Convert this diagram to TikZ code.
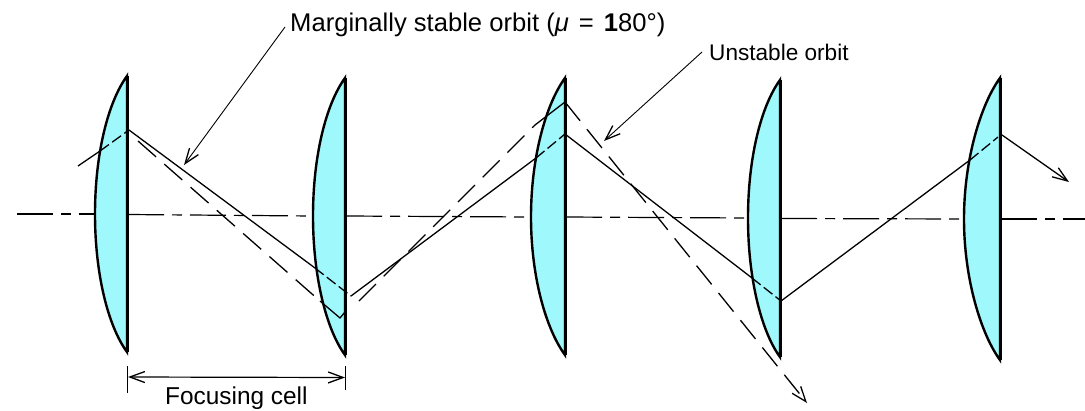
\documentclass[tikz,border=0pt]{standalone}
\usepackage{fontspec}
\setmainfont{Liberation Sans}
\usetikzlibrary{arrows.meta}
\definecolor{lensfill}{HTML}{9FF8FC}
\tikzset{
  lensface/.style={fill=lensfill,draw=black,line width=2.4pt,line join=miter},
  flatside/.style={draw=black,line width=3pt},
  axisline/.style={draw=black,line width=1.2pt,dash pattern=on 36pt off 8pt on 10pt off 8pt},
  orbit/.style={draw=black,line width=1.3pt},
  inlens/.style={draw=black,line width=1.3pt,dash pattern=on 11pt off 4pt},
  unstable/.style={draw=black,line width=1.3pt,dash pattern=on 24pt off 11pt},
  leader/.style={draw=black,line width=.9pt},
  vee/.style={-{Straight Barb[length=15pt,width=11pt,line width=1.3pt]}},
  label/.style={inner sep=0pt,anchor=base west,text=black}
}
\newcommand{\lensat}[5]{% flat x, top y, bottom y, bulge x, mid y
  \path[lensface] (#1,#2) .. controls ({#1-19},{#2+26}) and (#4,{#5-60}) .. (#4,#5)
     .. controls (#4,{#5+60}) and ({#1-19},{#3-26}) .. (#1,#3) -- cycle;
  \draw[flatside] (#1,#2) -- (#1,#3);
}
\begin{document}
\begin{tikzpicture}[x=1pt,y=-1pt]
\useasboundingbox (0,0) rectangle (1085,410);
% axis
\coordinate (ax0) at (17,214);
\coordinate (ax1) at (95,214);
\coordinate (ax2) at (128,214.5);
\coordinate (ax3) at (313,216);
\coordinate (ax4) at (346,216);
\coordinate (ax5) at (531,217);
\coordinate (ax6) at (566,217);
\coordinate (ax7) at (748,218);
\coordinate (ax8) at (781,218.5);
\coordinate (ax9) at (964,219);
\coordinate (ax10) at (1001,219);
\coordinate (ax11) at (1085,219);
\draw[axisline] (ax0) -- (ax1);
\draw[axisline] (ax2) -- (ax3);
\draw[axisline] (ax4) -- (ax5);
\draw[axisline] (ax6) -- (ax7);
\draw[axisline] (ax8) -- (ax9);
\draw[axisline] (ax10) -- (ax11);
% lenses
\lensat{127}{76}{352}{95}{214}
\lensat{345}{78}{355}{313}{216}
\lensat{565}{78}{355}{531}{217}
\lensat{780}{80}{357}{748}{218}
\lensat{1000}{78}{360}{964}{219}
% stable orbit
\coordinate (s0) at (78,166);
\coordinate (s1) at (100,151);
\coordinate (s2) at (129,130);
\coordinate (s3) at (315,268);
\coordinate (s4) at (351,296);
\coordinate (s5) at (536,158);
\coordinate (s6) at (565,134);
\coordinate (s7) at (752,278);
\coordinate (s8) at (781,301);
\coordinate (s9) at (970,160);
\coordinate (s10) at (998,137);
\coordinate (s11) at (1002,135);
\coordinate (s12) at (1069,182);
\draw[orbit] (s0) -- (s1);
\draw[inlens] (s1) -- (s2);
\draw[orbit] (s2) -- (s3);
\draw[inlens] (s3) -- (s4);
\draw[orbit] (s4) -- (s5);
\draw[inlens] (s5) -- (s6);
\draw[orbit] (s6) -- (s7);
\draw[inlens] (s7) -- (s8);
\draw[orbit] (s8) -- (s9);
\draw[inlens] (s9) -- (s10);
\draw[orbit,vee] (s11) -- (s12);
% unstable orbit
\coordinate (u0) at (138,141);
\coordinate (u1) at (320,301);
\coordinate (u2) at (340,318);
\coordinate (u3) at (345,312);
\coordinate (u4) at (359,301);
\coordinate (u5) at (535,125);
\coordinate (u6) at (565,102);
\coordinate (u7) at (807,403);
\draw[unstable] (u0) -- (u1);
\draw[orbit] (u1) -- (u2) -- (u3);
\draw[unstable] (u4) -- (u5);
\draw[orbit] (u5) -- (u6);
\draw[unstable,vee] (u6) -- (u7);
% labels
\node[label,font=\fontsize{25.6}{28}\selectfont] (mlabel) at (290,31) {Marginally stable orbit (\textit{μ}\hspace{10pt}=\hspace{10pt}\textbf{1}80°)};
\node[label,font=\fontsize{22.6}{26}\selectfont] (ulabel) at (709,60) {Unstable orbit};
\node[label,font=\fontsize{24.4}{28}\selectfont] (flabel) at (165,404) {Focusing cell};
% leaders
\coordinate (m0) at (285,27);
\coordinate (m1) at (184,165);
\coordinate (n0) at (702,52);
\coordinate (n1) at (604,141);
\draw[leader,vee] (m0) -- (m1);
\draw[leader,vee] (n0) -- (n1);
% dimension
\coordinate (d0a) at (127.5,366);
\coordinate (d0b) at (127.5,393);
\coordinate (d1a) at (345,366);
\coordinate (d1b) at (345,390);
\coordinate (d0) at (128,377);
\coordinate (d1) at (345,377.5);
\draw[leader] (d0a) -- (d0b);
\draw[leader] (d1a) -- (d1b);
\draw[leader,line width=1.2pt,{Straight Barb[length=15pt,width=11pt,line width=1.3pt]}-{Straight Barb[length=15pt,width=11pt,line width=1.3pt]}] (d0) -- (d1);
\end{tikzpicture}
\end{document}
